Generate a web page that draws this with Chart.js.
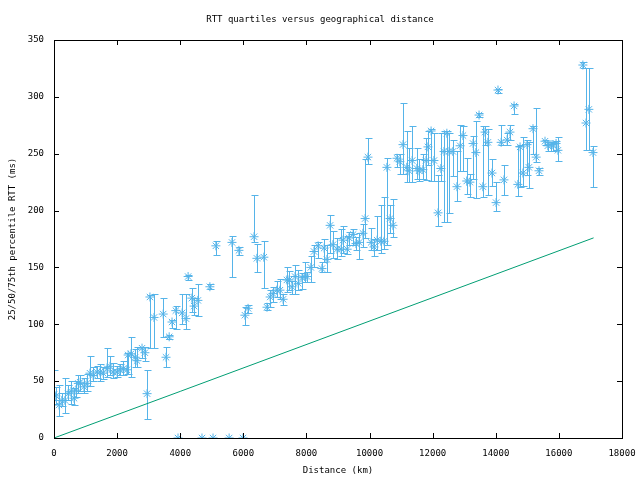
<!DOCTYPE html>
<html>
<head>
<meta charset="utf-8">
<script src="https://cdn.jsdelivr.net/npm/chart.js@4/dist/chart.umd.min.js"></script>
<style>
  html, body { margin: 0; padding: 0; background: #fff; }
  #wrap { width: 640px; height: 480px; }
</style>
</head>
<body>
<div id="wrap"><canvas id="rttChart" width="640" height="480"></canvas></div>
<script>
// distance (km) and RTT quartiles (ms): low = 25th, med = 50th, high = 75th
const distanceKm = [
  0, 60, 160, 250, 350, 450, 540, 634, 700, 770, 830, 950, 1045, 1140, 1240, 1360, 1460, 1560, 1680, 1775,
  1870, 2000, 2090, 2190, 2310, 2350, 2440, 2570, 2630, 2790, 2880, 2950, 3040, 3170, 3460, 3550, 3650, 3740, 3860, 3930,
  4060, 4180, 4250, 4370, 4440, 4560, 4690, 4940, 5040, 5130, 5550, 5640, 5860, 5990, 6050, 6150, 6340, 6430, 6650, 6750,
  6850, 6940, 7060, 7160, 7260, 7380, 7450, 7540, 7640, 7740, 7860, 7950, 8020, 8140, 8240, 8370, 8490, 8560, 8650, 8750,
  8840, 8970, 9100, 9160, 9290, 9350, 9480, 9570, 9670, 9790, 9860, 9950, 10050, 10140, 10240, 10360, 10460, 10550, 10650, 10740,
  10870, 10960, 11060, 11180, 11250, 11350, 11500, 11570, 11690, 11790, 11850, 11950, 12040, 12170, 12260, 12360, 12450, 12520, 12640, 12770,
  12870, 12960, 13080, 13180, 13280, 13370, 13470, 13590, 13660, 13750, 13880, 14010, 14070, 14170, 14260, 14360, 14450, 14580, 14700, 14770,
  14860, 14990, 15050, 15180, 15280, 15370, 15560, 15650, 15750, 15810, 15910, 15970, 16760, 16860, 16950, 17080
];
const rttMedian = [
  38, 37, 29, 33, 33, 39, 41, 35, 42, 48, 49, 45, 48, 57, 55, 58, 58, 57, 61, 63,
  58, 58, 60, 61, 60, 73, 74, 71, 68, 79, 75, 39, 124, 106, 109, 71, 89, 102, 112, 0,
  110, 105, 142, 123, 116, 121, 0, 133, 0, 169, 0, 172, 165, 0, 108, 114, 177, 158, 159, 115,
  124, 127, 130, 130, 122, 139, 139, 133, 142, 136, 141, 142, 142, 150, 164, 169, 149, 167, 157, 187,
  170, 166, 166, 174, 166, 176, 179, 171, 172, 180, 193, 247, 172, 168, 174, 173, 173, 238, 193, 187,
  246, 243, 258, 238, 235, 244, 237, 235, 236, 244, 256, 270, 244, 198, 237, 252, 268, 252, 252, 221,
  257, 266, 226, 225, 259, 251, 284, 221, 269, 260, 233, 207, 306, 260, 227, 262, 269, 292, 223, 256,
  233, 258, 238, 272, 247, 235, 261, 257, 258, 258, 259, 253, 328, 277, 289, 251
];
const rttLow = [
  33, 30, 19, 28, 22, 33, 30, 29, 36, 40, 41, 40, 41, 46, 50, 53, 50, 52, 54, 55,
  53, 54, 55, 55, 56, 56, 54, 62, 62, 70, 68, 17, 79, 79, 89, 62, 87, 97, 96, 0,
  100, 96, 139, 111, 108, 107, 0, 131, 0, 161, 0, 142, 161, 0, 99, 110, 172, 146, 132, 113,
  115, 120, 124, 122, 117, 128, 130, 127, 127, 130, 131, 137, 137, 137, 150, 158, 146, 155, 146, 163,
  158, 157, 160, 163, 162, 170, 170, 165, 157, 168, 176, 241, 165, 160, 165, 163, 166, 170, 180, 177,
  238, 232, 232, 225, 225, 225, 228, 226, 228, 227, 240, 226, 226, 186, 226, 190, 190, 198, 230, 208,
  235, 235, 215, 212, 228, 211, 282, 212, 258, 214, 222, 200, 303, 258, 214, 258, 262, 285, 213, 221,
  222, 231, 220, 250, 243, 231, 258, 252, 252, 252, 253, 244, 325, 253, 253, 221
];
const rttHigh = [
  60, 45, 47, 40, 53, 47, 50, 44, 50, 55, 55, 53, 56, 72, 62, 63, 65, 62, 79, 72,
  66, 63, 65, 68, 75, 75, 89, 78, 80, 80, 80, 60, 126, 127, 123, 80, 91, 104, 116, 0,
  127, 127, 143, 132, 123, 135, 0, 135, 0, 173, 0, 178, 168, 0, 115, 117, 214, 171, 173, 119,
  130, 133, 138, 140, 127, 150, 147, 138, 152, 148, 145, 155, 146, 160, 170, 172, 155, 175, 170, 196,
  182, 176, 184, 186, 178, 181, 184, 177, 180, 188, 245, 264, 185, 175, 195, 205, 212, 246, 205, 210,
  250, 250, 295, 270, 255, 274, 255, 245, 250, 264, 270, 272, 268, 231, 268, 270, 270, 268, 262, 252,
  275, 274, 246, 232, 266, 279, 286, 274, 274, 272, 245, 225, 307, 275, 240, 268, 275, 294, 257, 258,
  265, 262, 260, 274, 290, 237, 262, 260, 260, 260, 261, 265, 331, 325, 325, 257
];
// straight reference line (lower bound)
const lineDistance = [0, 4000, 17100];
const lineRtt = [0, 41, 176];

const xTicks = { min: 0, max: 18000, step: 2000 };
const yTicks = { min: 0, max: 350, step: 50 };

const pointColor = "#56b4e9";
const lineColor = "#009e73";
const monoFont = { family: "'DejaVu Sans Mono', 'Liberation Mono', monospace", size: 9 };

// vertical error bars with small caps, drawn from the quartile arrays
const errorBars = {
  id: "errorBars",
  beforeDatasetsDraw(chart) {
    const { ctx, chartArea, scales } = chart;
    ctx.save();
    ctx.beginPath();
    ctx.rect(chartArea.left, chartArea.top, chartArea.width, chartArea.height);
    ctx.clip();
    ctx.strokeStyle = pointColor;
    ctx.lineWidth = 1;
    for (let i = 0; i < distanceKm.length; i++) {
      const x = Math.round(scales.x.getPixelForValue(distanceKm[i])) + 0.5;
      const y1 = Math.round(scales.y.getPixelForValue(rttLow[i])) + 0.5;
      const y2 = Math.round(scales.y.getPixelForValue(rttHigh[i])) + 0.5;
      if (Math.abs(y1 - y2) < 1) continue;
      ctx.beginPath();
      ctx.moveTo(x, y1);
      ctx.lineTo(x, y2);
      ctx.moveTo(x - 3, y1);
      ctx.lineTo(x + 4, y1);
      ctx.moveTo(x - 3, y2);
      ctx.lineTo(x + 4, y2);
      ctx.stroke();
    }
    ctx.restore();
  },
};

// gnuplot style frame with inward ticks on all four sides
const frameTicks = {
  id: "frameTicks",
  afterDraw(chart) {
    const { ctx, chartArea: a, scales } = chart;
    const len = 5;
    ctx.save();
    ctx.strokeStyle = "#000";
    ctx.lineWidth = 1;
    ctx.strokeRect(Math.round(a.left) + 0.5, Math.round(a.top) + 0.5,
      Math.round(a.width), Math.round(a.height));
    ctx.beginPath();
    scales.x.ticks.forEach((t) => {
      const x = Math.round(scales.x.getPixelForValue(t.value)) + 0.5;
      ctx.moveTo(x, a.bottom);
      ctx.lineTo(x, a.bottom - len);
      ctx.moveTo(x, a.top);
      ctx.lineTo(x, a.top + len);
    });
    scales.y.ticks.forEach((t) => {
      const y = Math.round(scales.y.getPixelForValue(t.value)) + 0.5;
      ctx.moveTo(a.left, y);
      ctx.lineTo(a.left + len, y);
      ctx.moveTo(a.right, y);
      ctx.lineTo(a.right - len, y);
    });
    ctx.stroke();
    ctx.restore();
  },
};

const ctx = document.getElementById("rttChart").getContext("2d");
new Chart(ctx, {
  type: "scatter",
  data: {
    datasets: [
      {
        label: "RTT quartiles",
        data: distanceKm.map((d, i) => ({ x: d, y: rttMedian[i] })),
        pointStyle: "star",
        pointRadius: 4.5,
        borderColor: pointColor,
        backgroundColor: pointColor,
        borderWidth: 1,
        showLine: false,
      },
      {
        label: "distance bound",
        type: "line",
        data: lineDistance.map((d, i) => ({ x: d, y: lineRtt[i] })),
        borderColor: lineColor,
        borderWidth: 1,
        pointRadius: 0,
        fill: false,
        tension: 0,
      },
    ],
  },
  options: {
    responsive: false,
    animation: false,
    devicePixelRatio: 1,
    layout: { padding: { left: 18, right: 18, top: 0, bottom: 0 } },
    plugins: {
      legend: { display: false },
      tooltip: { enabled: false },
      title: {
        display: true,
        text: "RTT quartiles versus geographical distance",
        color: "#000",
        font: { ...monoFont, weight: "normal" },
        padding: { top: 14, bottom: 15.2 },
      },
    },
    scales: {
      x: {
        type: "linear",
        min: xTicks.min,
        max: xTicks.max,
        afterFit: (s) => { s.height = 42; s.paddingRight = 0; s.paddingLeft = 0; },
        grid: { display: false, drawTicks: false },
        border: { display: false },
        ticks: { stepSize: xTicks.step, color: "#000", font: monoFont, padding: 10, maxRotation: 0,
          callback: (v) => String(v) },
        title: { display: true, text: "Distance (km)", color: "#000", font: monoFont, padding: { top: 0, bottom: 4 } },
      },
      y: {
        type: "linear",
        min: yTicks.min,
        max: yTicks.max,
        afterFit: (s) => { s.width = 36; },
        grid: { display: false, drawTicks: false },
        border: { display: false },
        ticks: { stepSize: yTicks.step, color: "#000", font: monoFont, padding: 10,
          callback: (v) => String(v) },
        title: { display: true, text: "25/50/75th percentile RTT (ms)", color: "#000", font: monoFont, padding: { top: -11, bottom: 0 } },
      },
    },
  },
  plugins: [errorBars, frameTicks],
});
</script>
</body>
</html>
